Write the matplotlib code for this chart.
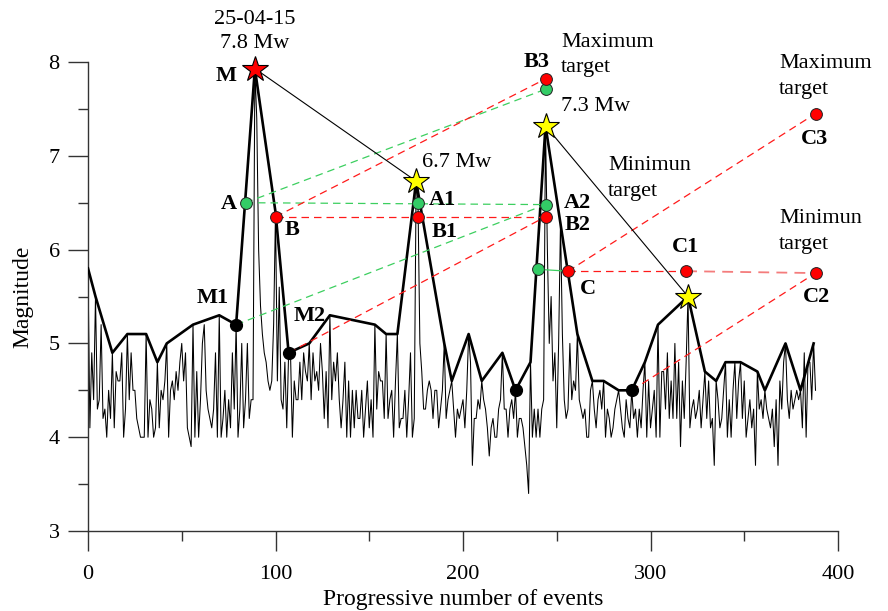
import matplotlib
matplotlib.use('Agg')
import matplotlib.pyplot as plt
from matplotlib.ticker import MultipleLocator

plt.rcParams['font.family'] = ['Liberation Serif', 'DejaVu Serif']

# ---------------- data ----------------
magnitude = [
    5.8, 4.1, 4.9, 4.4, 5.5, 4.3, 4.4, 5.2, 4.2, 4.3,
    4.0, 4.5, 4.2, 4.9, 4.1, 4.7, 4.6, 4.6, 4.9, 4.0,
    4.3, 5.1, 4.4, 4.9, 4.5, 4.5, 4.2, 4.1, 4.0, 4.0,
    4.0, 5.1, 4.0, 4.4, 4.3, 4.0, 4.1, 4.8, 4.1, 4.5,
    4.4, 4.6, 5.0, 4.0, 4.5, 4.6, 4.4, 4.7, 4.5, 4.8,
    5.0, 4.6, 4.9, 4.1, 4.0, 3.9, 5.2, 4.0, 4.7, 4.0,
    4.4, 5.0, 5.2, 4.5, 4.3, 4.2, 4.1, 4.3, 4.9, 4.0,
    5.3, 4.0, 4.2, 4.5, 4.0, 4.4, 4.1, 4.9, 4.3, 5.2,
    4.0, 4.3, 5.0, 4.1, 4.4, 5.0, 4.2, 4.4, 4.4, 7.93,
    7.4, 6.0, 5.4, 5.1, 4.9, 4.8, 4.6, 4.5, 4.6, 5.2,
    6.4, 4.6, 5.6, 4.4, 4.3, 4.8, 4.1, 4.9, 4.9, 4.0,
    4.6, 4.4, 4.4, 4.8, 4.4, 4.9, 4.7, 4.6, 5.0, 4.4,
    4.9, 4.6, 4.7, 4.5, 5.0, 4.7, 4.2, 4.7, 4.1, 5.3,
    4.4, 4.8, 4.6, 4.9, 4.4, 4.1, 4.4, 4.8, 4.0, 4.6,
    4.0, 4.5, 4.1, 4.5, 4.2, 4.2, 4.5, 4.0, 4.3, 4.6,
    4.1, 4.4, 4.0, 5.2, 4.3, 4.7, 4.6, 4.6, 4.2, 5.1,
    4.2, 4.4, 4.5, 4.0, 4.6, 5.1, 4.1, 4.2, 4.2, 4.5,
    4.0, 4.4, 4.9, 4.0, 4.2, 6.73, 6.5, 5.0, 4.7, 4.3,
    4.3, 4.5, 4.6, 4.5, 4.2, 4.5, 4.5, 4.1, 4.3, 4.5,
    5.0, 4.2, 4.4, 4.5, 4.6, 4.3, 4.0, 4.3, 4.2, 4.3,
    4.4, 4.1, 4.5, 5.1, 4.8, 3.7, 4.2, 4.2, 4.4, 4.3,
    4.6, 4.4, 4.3, 4.1, 3.8, 4.1, 4.2, 4.0, 4.0, 4.3,
    4.4, 4.9, 4.3, 4.3, 4.0, 4.3, 4.4, 4.2, 4.5, 4.0,
    4.2, 4.2, 4.1, 3.9, 3.7, 3.4, 4.8, 4.0, 4.3, 4.0,
    4.3, 4.0, 4.3, 4.4, 7.32, 6.0, 5.0, 5.5, 4.6, 4.9,
    4.1, 5.0, 6.3, 5.1, 4.4, 4.2, 4.3, 5.0, 4.4, 4.6,
    4.5, 5.1, 4.4, 4.3, 4.2, 4.3, 4.0, 4.0, 4.5, 4.6,
    4.3, 4.1, 4.4, 4.5, 4.3, 4.6, 4.0, 4.3, 4.2, 4.0,
    4.1, 4.3, 4.4, 4.5, 4.3, 4.1, 4.0, 4.4, 4.2, 4.1,
    4.5, 4.2, 4.3, 4.0, 4.3, 4.1, 4.5, 4.8, 4.0, 4.6,
    4.1, 4.3, 4.5, 4.0, 5.2, 4.0, 4.7, 4.7, 4.3, 4.9,
    4.2, 4.6, 4.2, 5.0, 4.2, 4.8, 3.9, 4.6, 4.2, 4.8,
    5.5, 4.1, 4.3, 4.4, 4.2, 4.3, 4.5, 4.1, 4.4, 4.7,
    4.2, 4.6, 4.1, 4.2, 3.7, 4.6, 4.4, 4.1, 4.2, 4.5,
    4.8, 4.0, 4.4, 4.0, 4.5, 4.8, 4.2, 4.6, 4.8, 4.2,
    4.6, 4.0, 4.2, 4.4, 4.1, 4.3, 3.7, 4.7, 4.3, 4.4,
    4.2, 4.5, 4.3, 4.2, 4.1, 4.3, 3.9, 4.4, 3.7, 4.6,
    4.3, 4.8, 5.0, 4.4, 4.2, 4.5, 4.3, 4.4, 4.5, 4.4,
    4.5, 4.1, 4.9, 4.0, 4.8, 4.8, 4.4, 5.0, 4.5,
]
events = list(range(len(magnitude)))

# envelope of local maxima (event indices)
env_idx = [0, 4, 13, 21, 31, 37, 42, 56, 70, 79, 89, 100, 107, 118, 129, 153,
           159, 165, 175, 190, 194, 203, 210, 221, 228, 236, 244, 261, 269, 275,
           283, 290, 297, 304, 320, 329, 335, 340, 348, 357, 361, 372, 380, 387]
env_mag = [magnitude[i] for i in env_idx]

# main shocks (stars)
star_idx = [89, 175, 244, 320]
star_colors = ['red', 'yellow', 'yellow', 'yellow']

# minima (black dots)
min_idx = [79, 107, 228, 290]

# green points (name: (event, magnitude))
green_pts = {'A': (84, 6.5), 'A1': (176, 6.5), 'A2': (244, 6.48),
             'B3g': (244, 7.71), 'Cg': (240, 5.79)}
# red points
red_pts = {'B': (100, 6.35), 'B1': (176, 6.35), 'B2': (244, 6.35),
           'B3': (244, 7.82), 'C': (256, 5.77), 'C1': (319, 5.77),
           'C2': (388, 5.75), 'C3': (388, 7.45)}

# ---------------- figure ----------------
fig = plt.figure(figsize=(8.88, 6.11), dpi=100)
ax = fig.add_axes([0.0991, 0.1309, 0.8446, 0.7676])

ax.plot(events, magnitude, color='black', lw=0.75, zorder=2)
ax.plot(env_idx, env_mag, color='black', lw=1.9, zorder=3)

def P(name):
    if name in green_pts:
        return green_pts[name]
    if name in red_pts:
        return red_pts[name]
    if name == 'M1':
        return (min_idx[0], magnitude[min_idx[0]])
    if name == 'M2':
        return (min_idx[1], magnitude[min_idx[1]])
    if name == 'D2':
        return (min_idx[3], magnitude[min_idx[3]])

GREEN = '#3ccf5f'
RED = '#ff1a1a'
dash = (0, (6, 4))

green_links = [('A', 'B3g'), ('A', 'A2'), ('M1', 'A2')]
red_links = [('B', 'B3'), ('B', 'B2'), ('M2', 'B2'), ('C', 'C3'), ('C', 'C1'), ('D2', 'C2')]
for a, b in green_links:
    (x0, y0), (x1, y1) = P(a), P(b)
    ax.plot([x0, x1], [y0, y1], color=GREEN, lw=0.9, ls=dash, zorder=4)
for a, b in red_links:
    (x0, y0), (x1, y1) = P(a), P(b)
    ax.plot([x0, x1], [y0, y1], color=RED, lw=0.9, ls=dash, zorder=4)
(x0, y0), (x1, y1) = P('C1'), P('C2')
ax.plot([x0, x1], [y0, y1], color='#f47c7c', lw=1.3, ls=(0, (6, 4)), zorder=4)
(x0, y0), (x1, y1) = P('Cg'), P('C')
ax.plot([x0, x1], [y0, y1], color=GREEN, lw=0.9, zorder=4)

# thin black connectors between main shocks
ax.plot([star_idx[0], star_idx[1]], [magnitude[star_idx[0]], magnitude[star_idx[1]]],
        color='black', lw=0.8, zorder=4)
ax.plot([star_idx[2], star_idx[3]], [magnitude[star_idx[2]], magnitude[star_idx[3]]],
        color='black', lw=0.8, zorder=4)

for name, (x, y) in green_pts.items():
    ax.plot(x, y, 'o', ms=8.5, mfc='#33cc66', mec='#222222', mew=0.7, zorder=6, clip_on=False)
for name, (x, y) in red_pts.items():
    ax.plot(x, y, 'o', ms=8.5, mfc='#ff0000', mec='#222222', mew=0.7, zorder=6, clip_on=False)
for i in min_idx:
    ax.plot(i, magnitude[i], 'o', ms=8.5, mfc='black', mec='black', zorder=6)
for i, c in zip(star_idx, star_colors):
    ax.plot(i, magnitude[i], '*', ms=19, mfc=c, mec='black', mew=0.8, zorder=7, clip_on=False)

# ---------------- texts ----------------
FS = 16
def t(x, y, s, bold=False, ha='center'):
    ax.text(x, y, s, fontsize=FS, fontweight='bold' if bold else 'normal',
            ha=ha, va='center', zorder=8)

t(89, 8.45, '25-04-15')
t(89, 8.2, '7.8 Mw')
t(73.6, 7.85, 'M', bold=True)
t(178, 6.93, '6.7 Mw', ha='left')
t(75.2, 6.49, 'A', bold=True)
t(108.8, 6.21, 'B', bold=True)
t(182, 6.53, 'A1', bold=True, ha='left')
t(183, 6.19, 'B1', bold=True, ha='left')
t(253.5, 6.5, 'A2', bold=True, ha='left')
t(254, 6.26, 'B2', bold=True, ha='left')
t(239, 8.0, 'B3', bold=True)
t(252.3, 8.21, 'Maximum', ha='left')
t(252.3, 7.94, 'target', ha='left')
t(252.3, 7.53, '7.3 Mw', ha='left')
t(277.3, 6.9, 'Minimun', ha='left')
t(277.3, 6.62, 'target', ha='left')
t(318.9, 6.03, 'C1', bold=True)
t(266.7, 5.58, 'C', bold=True)
t(368.5, 6.33, 'Minimun', ha='left')
t(368.5, 6.05, 'target', ha='left')
t(388.3, 5.49, 'C2', bold=True)
t(368.5, 7.98, 'Maximum', ha='left')
t(368.5, 7.71, 'target', ha='left')
t(387.2, 7.18, 'C3', bold=True)
t(66.7, 5.48, 'M1', bold=True)
t(118.4, 5.29, 'M2', bold=True)

# ---------------- axes ----------------
ax.set_xlim(0, 400)
ax.set_ylim(3, 8)
ax.xaxis.set_major_locator(MultipleLocator(100))
ax.xaxis.set_minor_locator(MultipleLocator(50))
ax.yaxis.set_major_locator(MultipleLocator(1))
ax.yaxis.set_minor_locator(MultipleLocator(0.5))
for s in ['top', 'right']:
    ax.spines[s].set_visible(False)
for s in ['left', 'bottom']:
    ax.spines[s].set_color('#333333')
    ax.spines[s].set_linewidth(1.0)
ax.tick_params(which='major', direction='out', length=14.4, width=1.0,
               color='#333333', labelsize=16, pad=6)
ax.tick_params(which='minor', direction='out', length=7.2, width=1.0, color='#333333')
ax.tick_params(axis='x', which='major', pad=10)
ax.set_xlabel('Progressive number of events', fontsize=17, labelpad=4)
ax.set_ylabel('Magnitude', fontsize=17, labelpad=11)
ax.patch.set_alpha(0)

fig.savefig('out.png', dpi=100)
